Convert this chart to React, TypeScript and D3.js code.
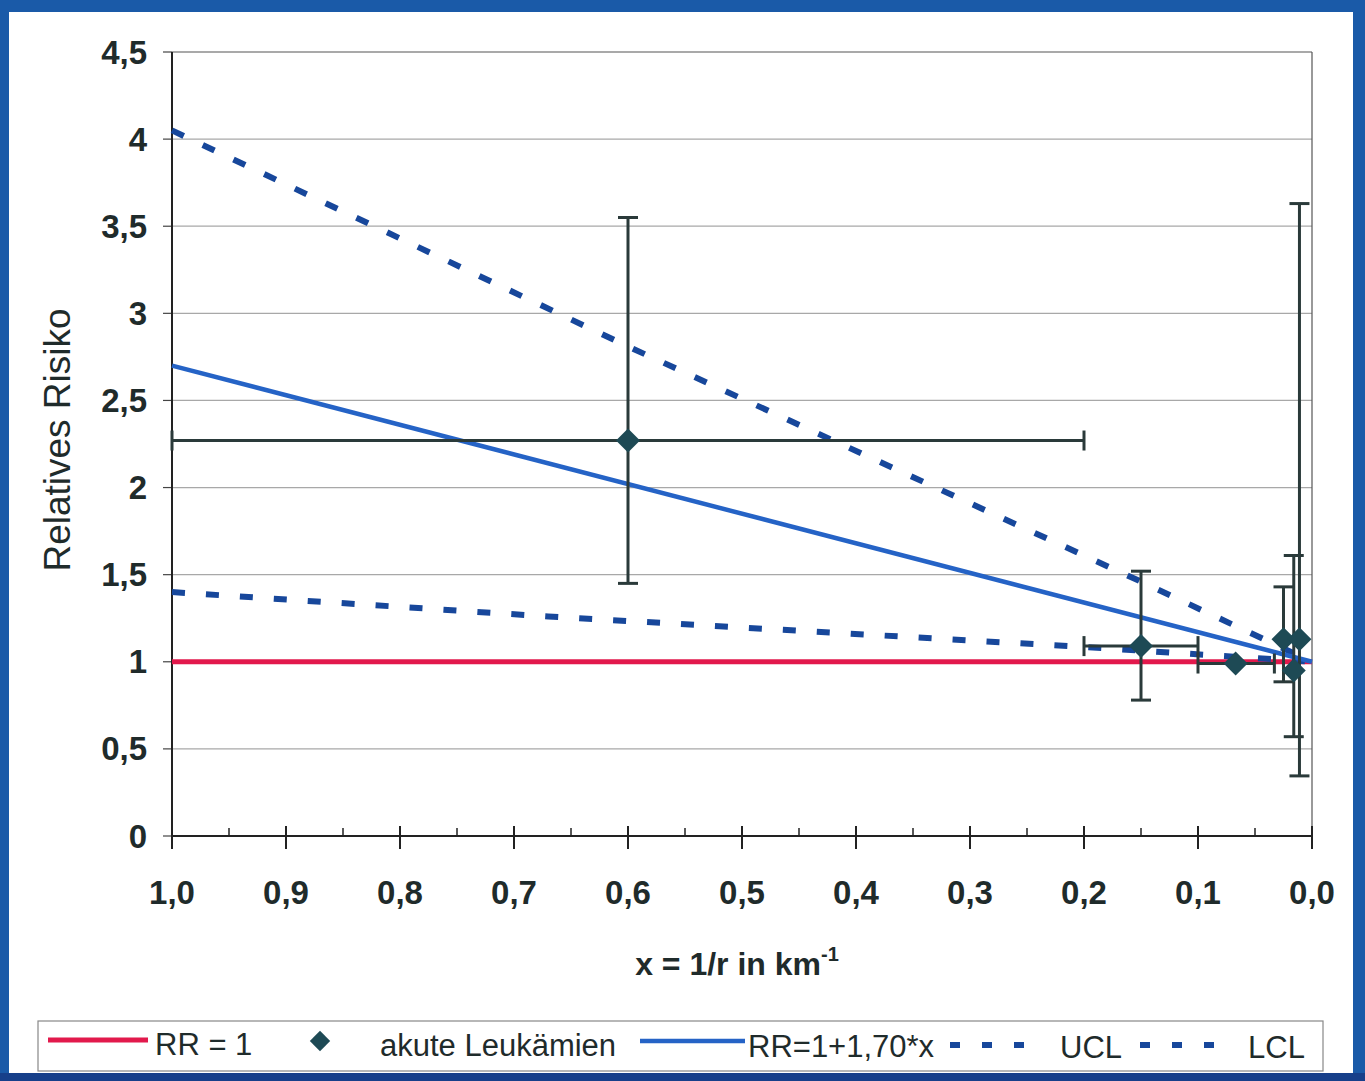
import React from "react";
import * as d3 from "d3";

// axis ticks
const xTicks = [1.0, 0.9, 0.8, 0.7, 0.6, 0.5, 0.4, 0.3, 0.2, 0.1, 0.0];
const xTickLabels = ["1,0", "0,9", "0,8", "0,7", "0,6", "0,5", "0,4", "0,3", "0,2", "0,1", "0,0"];
const xMinorTicks = [0.95, 0.85, 0.75, 0.65, 0.55, 0.45, 0.35, 0.25, 0.15, 0.05];
const yTicks = [0, 0.5, 1, 1.5, 2, 2.5, 3, 3.5, 4, 4.5];
const yTickLabels = ["0", "0,5", "1", "1,5", "2", "2,5", "3", "3,5", "4", "4,5"];

// akute Leukämien (point, CI in y, range in x)
const pointX = [0.6, 0.15, 0.067, 0.025, 0.016, 0.011];
const pointY = [2.27, 1.09, 0.99, 1.13, 0.95, 1.13];
const pointYLow = [1.45, 0.78, null, 0.885, 0.57, 0.345];
const pointYHigh = [3.55, 1.52, null, 1.43, 1.61, 3.63];
const pointXLow = [0.2, 0.1, 0.033, null, null, null];
const pointXHigh = [1.0, 0.2, 0.1, null, null, null];

// lines
const rrOneX = [1.0, 0.0];
const rrOneY = [1.0, 1.0];
const fitX = [1.0, 0.0];
const fitY = [2.7, 1.0];
const uclX = [1.0, 0.6, 0.15, 0.0];
const uclY = [4.05, 2.81, 1.46, 1.0];
const lclX = [1.0, 0.67, 0.2, 0.0];
const lclY = [1.4, 1.26, 1.085, 1.0];

const FONT = "'Liberation Sans', Arial, sans-serif";
const INK = "#1f2b2b";
const RED = "#e2194c";
const BLUE = "#2563c6";
const DASHBLUE = "#17479b";
const BAR = "#2a3a3a";
const DIAMOND = "#1e4a55";

export default function App() {
  const W = 1365;
  const H = 1081;
  const x = d3.scaleLinear().domain([1, 0]).range([172, 1312]);
  const y = d3.scaleLinear().domain([0, 4.5]).range([836, 52]);

  const line = d3
    .line<[number, number]>()
    .x((d) => x(d[0]))
    .y((d) => y(d[1]));
  const zip = (a: number[], b: number[]) => a.map((v, i) => [v, b[i]] as [number, number]);

  const diamond = "M0,-12L12,0L0,12L-12,0Z";
  const cap = 10;

  return (
    <svg
      width={W}
      height={H}
      style={{ position: "absolute", left: 0, top: 0, display: "block" }}
      fontFamily={FONT}
    >
      {/* slide frame */}
      <rect x={0} y={0} width={W} height={H} fill="#1a5aa8" />
      <rect x={0} y={1073} width={W} height={8} fill="#173f8a" />
      <rect x={9} y={12} width={1344} height={1061} fill="#ffffff" />

      {/* grid */}
      {yTicks.map((t, i) => (
        <g key={"g" + t}>
          {t > 0 && (
            <line
              x1={x(1)}
              x2={x(0)}
              y1={y(t)}
              y2={y(t)}
              stroke={t === 4.5 ? "#555" : "#a8a8a8"}
              strokeWidth={1.2}
            />
          )}
          <line x1={x(1) - 9} x2={x(1)} y1={y(t)} y2={y(t)} stroke="#444" strokeWidth={1.2} />
          <text
            x={147}
            y={y(t)}
            textAnchor="end"
            dominantBaseline="central"
            fontSize={33}
            fontWeight="bold"
            fill={INK}
          >
            {yTickLabels[i]}
          </text>
        </g>
      ))}
      <line x1={x(0)} x2={x(0)} y1={y(4.5)} y2={y(0)} stroke="#555" strokeWidth={1.2} />
      <line x1={x(1)} x2={x(1)} y1={y(4.5)} y2={y(0)} stroke="#222" strokeWidth={2} />

      {/* x axis */}
      <line x1={x(1)} x2={x(0)} y1={y(0)} y2={y(0)} stroke="#222" strokeWidth={2} />
      {xTicks.map((t, i) => (
        <g key={"x" + t}>
          <line x1={x(t)} x2={x(t)} y1={y(0) - 10} y2={y(0) + 13} stroke="#222" strokeWidth={2} />
          <text x={x(t)} y={904} textAnchor="middle" fontSize={33} fontWeight="bold" fill={INK}>
            {xTickLabels[i]}
          </text>
        </g>
      ))}
      {xMinorTicks.map((t) => (
        <line key={"m" + t} x1={x(t)} x2={x(t)} y1={y(0) - 8} y2={y(0)} stroke="#222" strokeWidth={1.5} />
      ))}

      {/* axis titles */}
      <text x={737} y={975} textAnchor="middle" fontSize={32} fontWeight="bold" fill={INK}>
        x = 1/r in km
        <tspan fontSize={20} dy={-14}>
          -1
        </tspan>
      </text>
      <text
        transform="translate(70,440) rotate(-90)"
        textAnchor="middle"
        fontSize={37}
        fill={INK}
      >
        Relatives Risiko
      </text>

      {/* reference and fit lines */}
      <path d={line(zip(rrOneX, rrOneY)) || ""} fill="none" stroke={RED} strokeWidth={5} />
      <path d={line(zip(lclX, lclY)) || ""} fill="none" stroke={DASHBLUE} strokeWidth={6} strokeDasharray="13 21" />
      <path d={line(zip(uclX, uclY)) || ""} fill="none" stroke={DASHBLUE} strokeWidth={6} strokeDasharray="13 21" />
      <path d={line(zip(fitX, fitY)) || ""} fill="none" stroke={BLUE} strokeWidth={4.5} />

      {/* error bars */}
      {pointX.map((px, i) => {
        const lo = pointYLow[i];
        const hi = pointYHigh[i];
        const xl = pointXLow[i];
        const xh = pointXHigh[i];
        return (
          <g key={"e" + i} stroke={BAR} strokeWidth={3}>
            {lo !== null && hi !== null && (
              <>
                <line x1={x(px)} x2={x(px)} y1={y(lo)} y2={y(hi)} />
                <line x1={x(px) - cap} x2={x(px) + cap} y1={y(lo)} y2={y(lo)} />
                <line x1={x(px) - cap} x2={x(px) + cap} y1={y(hi)} y2={y(hi)} />
              </>
            )}
            {xl !== null && xh !== null && (
              <>
                <line x1={x(xh)} x2={x(xl)} y1={y(pointY[i])} y2={y(pointY[i])} />
                <line x1={x(xh)} x2={x(xh)} y1={y(pointY[i]) - cap} y2={y(pointY[i]) + cap} />
                <line x1={x(xl)} x2={x(xl)} y1={y(pointY[i]) - cap} y2={y(pointY[i]) + cap} />
              </>
            )}
          </g>
        );
      })}
      {pointX.map((px, i) => (
        <path
          key={"d" + i}
          d={diamond}
          transform={`translate(${x(px)},${y(pointY[i])})`}
          fill={DIAMOND}
        />
      ))}

      {/* legend */}
      <rect x={38} y={1021} width={1285} height={50} fill="#fff" stroke="#888" strokeWidth={1.2} />
      <g fontSize={31} fill={INK}>
        <line x1={48} x2={148} y1={1040} y2={1040} stroke={RED} strokeWidth={5} />
        <text x={155} y={1055}>RR = 1</text>
        <path d={diamond} transform="translate(320,1041) scale(0.85)" fill={DIAMOND} />
        <text x={380} y={1056}>akute Leukämien</text>
        <line x1={640} x2={745} y1={1041} y2={1041} stroke={BLUE} strokeWidth={4.5} />
        <text x={748} y={1057}>RR=1+1,70*x</text>
        <line x1={950} x2={1040} y1={1045} y2={1045} stroke={DASHBLUE} strokeWidth={6} strokeDasharray="10 22" />
        <text x={1060} y={1058}>UCL</text>
        <line x1={1140} x2={1230} y1={1045} y2={1045} stroke={DASHBLUE} strokeWidth={6} strokeDasharray="10 22" />
        <text x={1248} y={1058}>LCL</text>
      </g>
    </svg>
  );
}
